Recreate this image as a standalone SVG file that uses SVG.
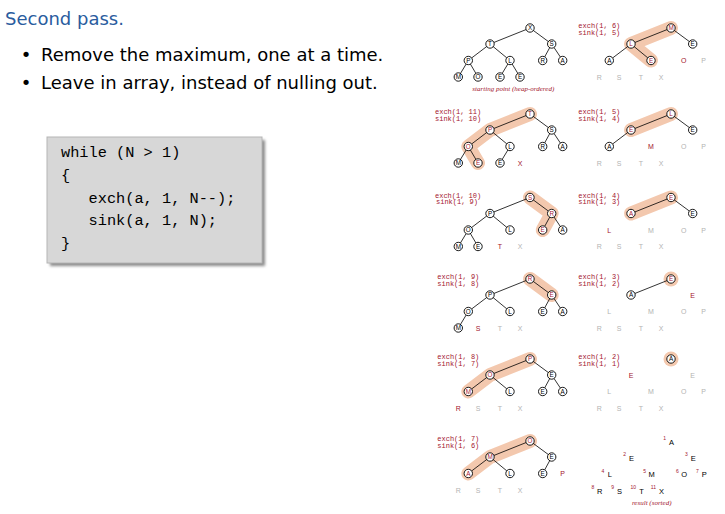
<svg xmlns="http://www.w3.org/2000/svg" width="725" height="514" viewBox="0 0 725 514">
  <style>
    .title { font-family: "DejaVu Sans", sans-serif; font-size: 18px; fill: #2a5c9e; }
    .body { font-family: "DejaVu Sans", sans-serif; font-size: 18px; fill: #000; }
    .code { font-family: "Liberation Mono", monospace; font-size: 15.3px; fill: #000; white-space: pre; }
    .hl { fill: none; stroke: #f3c8ae; stroke-width: 14; stroke-linecap: round; stroke-linejoin: round; }
    .halo { fill: #f3c8ae; }
    .edge { fill: none; stroke: #000; stroke-width: 0.8; }
    .nd circle { fill: #fff; stroke: #000; stroke-width: 0.9; }
    .nd text { font-family: "Liberation Sans", sans-serif; font-size: 6.3px; text-anchor: middle; fill: #000; }
    .nd.r text { fill: #a3152e; }
    .lo { font-family: "Liberation Sans", sans-serif; font-size: 7px; text-anchor: middle; fill: #b3b3b3; }
    .lo.r { fill: #a3152e; }
    .lo.k { fill: #000; font-size: 7.5px; }
    .sup { font-family: "Liberation Sans", sans-serif; font-size: 5px; text-anchor: end; fill: #a3152e; }
    .op { font-family: "Liberation Mono", monospace; font-size: 7px; fill: #a3152e; white-space: pre; }
    .cap { font-family: "Liberation Serif", serif; font-style: italic; font-size: 7px; text-anchor: middle; fill: #a3152e; }
  </style>
  <defs>
    <filter id="soft" x="-10%" y="-10%" width="120%" height="120%">
      <feGaussianBlur stdDeviation="1.5"/>
    </filter>
  </defs>

  <rect width="725" height="514" fill="#fff"/>

  <!-- heading and bullets -->
  <text class="title" x="5" y="24.5">Second pass.</text>
  <text class="body" x="26" y="61" text-anchor="middle">•</text>
  <text class="body" x="41" y="61">Remove the maximum, one at a time.</text>
  <text class="body" x="26" y="89" text-anchor="middle">•</text>
  <text class="body" x="41" y="89">Leave in array, instead of nulling out.</text>

  <!-- code box -->
  <g id="code-box">
    <rect x="50" y="140" width="215" height="126" fill="#8a8a8a" filter="url(#soft)"/>
    <rect x="47" y="137" width="215" height="126" fill="#d7d7d7" stroke="#b5b5b5" stroke-width="1"/>
    <text class="code" x="61" y="157">while (N &gt; 1)</text>
    <text class="code" x="61" y="180">{</text>
    <text class="code" x="61" y="203">   exch(a, 1, N--);</text>
    <text class="code" x="61" y="225">   sink(a, 1, N);</text>
    <text class="code" x="61" y="248">}</text>
  </g>

  <!-- panel: starting heap -->
  <g id="panel-start" transform="translate(530,28)">
    <g id="start-links">
      <path class="edge" d="M0,0L-40,16 M0,0L21.7,16 M-40,16L-61.7,32.5 M-40,16L-20,32.5 M21.7,16L12.7,32.5 M21.7,16L32.7,32.5 M-61.7,32.5L-71.7,49 M-61.7,32.5L-52,49 M-20,32.5L-30,49 M-20,32.5L-10,49"/>
    </g>
    <g id="start-n1" class="nd" transform="translate(0,0)"><circle r="4.2"/><text y="2.25">X</text></g>
    <g id="start-n2" class="nd" transform="translate(-40,16)"><circle r="4.2"/><text y="2.25">T</text></g>
    <g id="start-n3" class="nd" transform="translate(21.7,16)"><circle r="4.2"/><text y="2.25">S</text></g>
    <g id="start-n4" class="nd" transform="translate(-61.7,32.5)"><circle r="4.2"/><text y="2.25">P</text></g>
    <g id="start-n5" class="nd" transform="translate(-20,32.5)"><circle r="4.2"/><text y="2.25">L</text></g>
    <g id="start-n6" class="nd" transform="translate(12.7,32.5)"><circle r="4.2"/><text y="2.25">R</text></g>
    <g id="start-n7" class="nd" transform="translate(32.7,32.5)"><circle r="4.2"/><text y="2.25">A</text></g>
    <g id="start-n8" class="nd" transform="translate(-71.7,49)"><circle r="4.2"/><text y="2.25">M</text></g>
    <g id="start-n9" class="nd" transform="translate(-52,49)"><circle r="4.2"/><text y="2.25">O</text></g>
    <g id="start-n10" class="nd" transform="translate(-30,49)"><circle r="4.2"/><text y="2.25">E</text></g>
    <g id="start-n11" class="nd" transform="translate(-10,49)"><circle r="4.2"/><text y="2.25">E</text></g>
    <text class="cap" x="-16.7" y="63">starting point (heap-ordered)</text>
  </g>

  <!-- panel: exch(1, 11) -->
  <g id="panel-11" transform="translate(530,114)">
    <text class="op" x="-95" y="0">exch(1, 11)</text>
    <text class="op" x="-95" y="6.9">sink(1, 10)</text>
    <path class="hl" d="M0,0L-40,16L-61.7,32.5L-52,49"/>
    <g id="p11-links">
      <path class="edge" d="M0,0L-40,16 M0,0L21.7,16 M-40,16L-61.7,32.5 M-40,16L-20,32.5 M21.7,16L12.7,32.5 M21.7,16L32.7,32.5 M-61.7,32.5L-71.7,49 M-61.7,32.5L-52,49 M-20,32.5L-30,49"/>
    </g>
    <g id="p11-n1" class="nd r" transform="translate(0,0)"><circle r="4.2"/><text y="2.25">T</text></g>
    <g id="p11-n2" class="nd r" transform="translate(-40,16)"><circle r="4.2"/><text y="2.25">P</text></g>
    <g id="p11-n3" class="nd" transform="translate(21.7,16)"><circle r="4.2"/><text y="2.25">S</text></g>
    <g id="p11-n4" class="nd r" transform="translate(-61.7,32.5)"><circle r="4.2"/><text y="2.25">O</text></g>
    <g id="p11-n5" class="nd" transform="translate(-20,32.5)"><circle r="4.2"/><text y="2.25">L</text></g>
    <g id="p11-n6" class="nd" transform="translate(12.7,32.5)"><circle r="4.2"/><text y="2.25">R</text></g>
    <g id="p11-n7" class="nd" transform="translate(32.7,32.5)"><circle r="4.2"/><text y="2.25">A</text></g>
    <g id="p11-n8" class="nd" transform="translate(-71.7,49)"><circle r="4.2"/><text y="2.25">M</text></g>
    <g id="p11-n9" class="nd r" transform="translate(-52,49)"><circle r="4.2"/><text y="2.25">E</text></g>
    <g id="p11-n10" class="nd" transform="translate(-30,49)"><circle r="4.2"/><text y="2.25">E</text></g>
    <text class="lo r" x="-10" y="51.5">X</text>
  </g>

  <!-- panel: exch(1, 10) -->
  <g id="panel-10" transform="translate(530,197.5)">
    <text class="op" x="-95" y="0">exch(1, 10)</text>
    <text class="op" x="-94" y="6.9">sink(1, 9)</text>
    <path class="hl" d="M0,0L21.7,16L12.7,32.5"/>
    <g id="p10-links">
      <path class="edge" d="M0,0L-40,16 M0,0L21.7,16 M-40,16L-61.7,32.5 M-40,16L-20,32.5 M21.7,16L12.7,32.5 M21.7,16L32.7,32.5 M-61.7,32.5L-71.7,49 M-61.7,32.5L-52,49"/>
    </g>
    <g id="p10-n1" class="nd r" transform="translate(0,0)"><circle r="4.2"/><text y="2.25">S</text></g>
    <g id="p10-n2" class="nd" transform="translate(-40,16)"><circle r="4.2"/><text y="2.25">P</text></g>
    <g id="p10-n3" class="nd r" transform="translate(21.7,16)"><circle r="4.2"/><text y="2.25">R</text></g>
    <g id="p10-n4" class="nd" transform="translate(-61.7,32.5)"><circle r="4.2"/><text y="2.25">O</text></g>
    <g id="p10-n5" class="nd" transform="translate(-20,32.5)"><circle r="4.2"/><text y="2.25">L</text></g>
    <g id="p10-n6" class="nd r" transform="translate(12.7,32.5)"><circle r="4.2"/><text y="2.25">E</text></g>
    <g id="p10-n7" class="nd" transform="translate(32.7,32.5)"><circle r="4.2"/><text y="2.25">A</text></g>
    <g id="p10-n8" class="nd" transform="translate(-71.7,49)"><circle r="4.2"/><text y="2.25">M</text></g>
    <g id="p10-n9" class="nd" transform="translate(-52,49)"><circle r="4.2"/><text y="2.25">E</text></g>
    <text class="lo r" x="-30" y="51.5">T</text>
    <text class="lo" x="-10" y="51.5">X</text>
  </g>

  <!-- panel: exch(1, 9) -->
  <g id="panel-9" transform="translate(530,279)">
    <text class="op" x="-92.7" y="0">exch(1, 9)</text>
    <text class="op" x="-92.7" y="6.9">sink(1, 8)</text>
    <path class="hl" d="M0,0L21.7,16"/>
    <g id="p9-links">
      <path class="edge" d="M0,0L-40,16 M0,0L21.7,16 M-40,16L-61.7,32.5 M-40,16L-20,32.5 M21.7,16L12.7,32.5 M21.7,16L32.7,32.5 M-61.7,32.5L-71.7,49"/>
    </g>
    <g id="p9-n1" class="nd r" transform="translate(0,0)"><circle r="4.2"/><text y="2.25">R</text></g>
    <g id="p9-n2" class="nd" transform="translate(-40,16)"><circle r="4.2"/><text y="2.25">P</text></g>
    <g id="p9-n3" class="nd r" transform="translate(21.7,16)"><circle r="4.2"/><text y="2.25">E</text></g>
    <g id="p9-n4" class="nd" transform="translate(-61.7,32.5)"><circle r="4.2"/><text y="2.25">O</text></g>
    <g id="p9-n5" class="nd" transform="translate(-20,32.5)"><circle r="4.2"/><text y="2.25">L</text></g>
    <g id="p9-n6" class="nd" transform="translate(12.7,32.5)"><circle r="4.2"/><text y="2.25">E</text></g>
    <g id="p9-n7" class="nd" transform="translate(32.7,32.5)"><circle r="4.2"/><text y="2.25">A</text></g>
    <g id="p9-n8" class="nd" transform="translate(-71.7,49)"><circle r="4.2"/><text y="2.25">M</text></g>
    <text class="lo r" x="-52" y="51.5">S</text>
    <text class="lo" x="-30" y="51.5">T</text>
    <text class="lo" x="-10" y="51.5">X</text>
  </g>

  <!-- panel: exch(1, 8) -->
  <g id="panel-8" transform="translate(530,359)">
    <text class="op" x="-92.7" y="0">exch(1, 8)</text>
    <text class="op" x="-92.7" y="6.9">sink(1, 7)</text>
    <path class="hl" d="M0,0L-40,16L-61.7,32.5"/>
    <g id="p8-links">
      <path class="edge" d="M0,0L-40,16 M0,0L21.7,16 M-40,16L-61.7,32.5 M-40,16L-20,32.5 M21.7,16L12.7,32.5 M21.7,16L32.7,32.5"/>
    </g>
    <g id="p8-n1" class="nd r" transform="translate(0,0)"><circle r="4.2"/><text y="2.25">P</text></g>
    <g id="p8-n2" class="nd r" transform="translate(-40,16)"><circle r="4.2"/><text y="2.25">O</text></g>
    <g id="p8-n3" class="nd" transform="translate(21.7,16)"><circle r="4.2"/><text y="2.25">E</text></g>
    <g id="p8-n4" class="nd r" transform="translate(-61.7,32.5)"><circle r="4.2"/><text y="2.25">M</text></g>
    <g id="p8-n5" class="nd" transform="translate(-20,32.5)"><circle r="4.2"/><text y="2.25">L</text></g>
    <g id="p8-n6" class="nd" transform="translate(12.7,32.5)"><circle r="4.2"/><text y="2.25">E</text></g>
    <g id="p8-n7" class="nd" transform="translate(32.7,32.5)"><circle r="4.2"/><text y="2.25">A</text></g>
    <text class="lo r" x="-71.7" y="51.5">R</text>
    <text class="lo" x="-52" y="51.5">S</text>
    <text class="lo" x="-30" y="51.5">T</text>
    <text class="lo" x="-10" y="51.5">X</text>
  </g>

  <!-- panel: exch(1, 7) -->
  <g id="panel-7" transform="translate(530,441)">
    <text class="op" x="-92.7" y="0">exch(1, 7)</text>
    <text class="op" x="-92.7" y="6.9">sink(1, 6)</text>
    <path class="hl" d="M0,0L-40,16L-61.7,32.5"/>
    <g id="p7-links">
      <path class="edge" d="M0,0L-40,16 M0,0L21.7,16 M-40,16L-61.7,32.5 M-40,16L-20,32.5 M21.7,16L12.7,32.5"/>
    </g>
    <g id="p7-n1" class="nd r" transform="translate(0,0)"><circle r="4.2"/><text y="2.25">O</text></g>
    <g id="p7-n2" class="nd r" transform="translate(-40,16)"><circle r="4.2"/><text y="2.25">M</text></g>
    <g id="p7-n3" class="nd" transform="translate(21.7,16)"><circle r="4.2"/><text y="2.25">E</text></g>
    <g id="p7-n4" class="nd r" transform="translate(-61.7,32.5)"><circle r="4.2"/><text y="2.25">A</text></g>
    <g id="p7-n5" class="nd" transform="translate(-20,32.5)"><circle r="4.2"/><text y="2.25">L</text></g>
    <g id="p7-n6" class="nd" transform="translate(12.7,32.5)"><circle r="4.2"/><text y="2.25">E</text></g>
    <text class="lo r" x="32.7" y="35">P</text>
    <text class="lo" x="-71.7" y="51.5">R</text>
    <text class="lo" x="-52" y="51.5">S</text>
    <text class="lo" x="-30" y="51.5">T</text>
    <text class="lo" x="-10" y="51.5">X</text>
  </g>

  <!-- panel: exch(1, 6) -->
  <g id="panel-6" transform="translate(671,28)">
    <text class="op" x="-92.7" y="0">exch(1, 6)</text>
    <text class="op" x="-92.7" y="6.9">sink(1, 5)</text>
    <path class="hl" d="M0,0L-40,16L-20,32.5"/>
    <g id="p6-links">
      <path class="edge" d="M0,0L-40,16 M0,0L21.7,16 M-40,16L-61.7,32.5 M-40,16L-20,32.5"/>
    </g>
    <g id="p6-n1" class="nd r" transform="translate(0,0)"><circle r="4.2"/><text y="2.25">M</text></g>
    <g id="p6-n2" class="nd r" transform="translate(-40,16)"><circle r="4.2"/><text y="2.25">L</text></g>
    <g id="p6-n3" class="nd" transform="translate(21.7,16)"><circle r="4.2"/><text y="2.25">E</text></g>
    <g id="p6-n4" class="nd" transform="translate(-61.7,32.5)"><circle r="4.2"/><text y="2.25">A</text></g>
    <g id="p6-n5" class="nd r" transform="translate(-20,32.5)"><circle r="4.2"/><text y="2.25">E</text></g>
    <text class="lo r" x="12.7" y="35">O</text>
    <text class="lo" x="32.7" y="35">P</text>
    <text class="lo" x="-71.7" y="51.5">R</text>
    <text class="lo" x="-52" y="51.5">S</text>
    <text class="lo" x="-30" y="51.5">T</text>
    <text class="lo" x="-10" y="51.5">X</text>
  </g>

  <!-- panel: exch(1, 5) -->
  <g id="panel-5" transform="translate(671,114)">
    <text class="op" x="-92.7" y="0">exch(1, 5)</text>
    <text class="op" x="-92.7" y="6.9">sink(1, 4)</text>
    <path class="hl" d="M0,0L-40,16"/>
    <g id="p5-links">
      <path class="edge" d="M0,0L-40,16 M0,0L21.7,16 M-40,16L-61.7,32.5"/>
    </g>
    <g id="p5-n1" class="nd r" transform="translate(0,0)"><circle r="4.2"/><text y="2.25">L</text></g>
    <g id="p5-n2" class="nd r" transform="translate(-40,16)"><circle r="4.2"/><text y="2.25">E</text></g>
    <g id="p5-n3" class="nd" transform="translate(21.7,16)"><circle r="4.2"/><text y="2.25">E</text></g>
    <g id="p5-n4" class="nd" transform="translate(-61.7,32.5)"><circle r="4.2"/><text y="2.25">A</text></g>
    <text class="lo r" x="-20" y="35">M</text>
    <text class="lo" x="12.7" y="35">O</text>
    <text class="lo" x="32.7" y="35">P</text>
    <text class="lo" x="-71.7" y="51.5">R</text>
    <text class="lo" x="-52" y="51.5">S</text>
    <text class="lo" x="-30" y="51.5">T</text>
    <text class="lo" x="-10" y="51.5">X</text>
  </g>

  <!-- panel: exch(1, 4) -->
  <g id="panel-4" transform="translate(671,197.5)">
    <text class="op" x="-92.7" y="0">exch(1, 4)</text>
    <text class="op" x="-92.7" y="6.9">sink(1, 3)</text>
    <path class="hl" d="M0,0L-40,16"/>
    <g id="p4-links">
      <path class="edge" d="M0,0L-40,16 M0,0L21.7,16"/>
    </g>
    <g id="p4-n1" class="nd r" transform="translate(0,0)"><circle r="4.2"/><text y="2.25">E</text></g>
    <g id="p4-n2" class="nd r" transform="translate(-40,16)"><circle r="4.2"/><text y="2.25">A</text></g>
    <g id="p4-n3" class="nd" transform="translate(21.7,16)"><circle r="4.2"/><text y="2.25">E</text></g>
    <text class="lo r" x="-61.7" y="35">L</text>
    <text class="lo" x="-20" y="35">M</text>
    <text class="lo" x="12.7" y="35">O</text>
    <text class="lo" x="32.7" y="35">P</text>
    <text class="lo" x="-71.7" y="51.5">R</text>
    <text class="lo" x="-52" y="51.5">S</text>
    <text class="lo" x="-30" y="51.5">T</text>
    <text class="lo" x="-10" y="51.5">X</text>
  </g>

  <!-- panel: exch(1, 3) -->
  <g id="panel-3" transform="translate(671,279)">
    <text class="op" x="-92.7" y="0">exch(1, 3)</text>
    <text class="op" x="-92.7" y="6.9">sink(1, 2)</text>
    <circle class="halo" r="7.5"/>
    <g id="p3-links">
      <path class="edge" d="M0,0L-40,16"/>
    </g>
    <g id="p3-n1" class="nd r" transform="translate(0,0)"><circle r="4.2"/><text y="2.25">E</text></g>
    <g id="p3-n2" class="nd" transform="translate(-40,16)"><circle r="4.2"/><text y="2.25">A</text></g>
    <text class="lo r" x="21.7" y="18.5">E</text>
    <text class="lo" x="-61.7" y="35">L</text>
    <text class="lo" x="-20" y="35">M</text>
    <text class="lo" x="12.7" y="35">O</text>
    <text class="lo" x="32.7" y="35">P</text>
    <text class="lo" x="-71.7" y="51.5">R</text>
    <text class="lo" x="-52" y="51.5">S</text>
    <text class="lo" x="-30" y="51.5">T</text>
    <text class="lo" x="-10" y="51.5">X</text>
  </g>

  <!-- panel: exch(1, 2) -->
  <g id="panel-2" transform="translate(671,359)">
    <text class="op" x="-92.7" y="0">exch(1, 2)</text>
    <text class="op" x="-92.7" y="6.9">sink(1, 1)</text>
    <circle class="halo" r="7.5"/>
    <g id="p2-n1" class="nd" transform="translate(0,0)"><circle r="4.2"/><text y="2.25">A</text></g>
    <text class="lo r" x="-40" y="18.5">E</text>
    <text class="lo" x="21.7" y="18.5">E</text>
    <text class="lo" x="-61.7" y="35">L</text>
    <text class="lo" x="-20" y="35">M</text>
    <text class="lo" x="12.7" y="35">O</text>
    <text class="lo" x="32.7" y="35">P</text>
    <text class="lo" x="-71.7" y="51.5">R</text>
    <text class="lo" x="-52" y="51.5">S</text>
    <text class="lo" x="-30" y="51.5">T</text>
    <text class="lo" x="-10" y="51.5">X</text>
  </g>

  <!-- panel: sorted result with array indices -->
  <g id="panel-result" transform="translate(671,441)">
    <text class="lo k" x="0.5" y="3.7">A</text><text class="sup" x="-5" y="-1">1</text>
    <text class="lo k" x="-39.5" y="19.7">E</text><text class="sup" x="-45" y="15">2</text>
    <text class="lo k" x="22.2" y="19.7">E</text><text class="sup" x="16.7" y="15">3</text>
    <text class="lo k" x="-61.2" y="36.2">L</text><text class="sup" x="-66.7" y="31.5">4</text>
    <text class="lo k" x="-19.5" y="36.2">M</text><text class="sup" x="-25" y="31.5">5</text>
    <text class="lo k" x="13.2" y="36.2">O</text><text class="sup" x="7.7" y="31.5">6</text>
    <text class="lo k" x="33.2" y="36.2">P</text><text class="sup" x="27.7" y="31.5">7</text>
    <text class="lo k" x="-71.2" y="52.7">R</text><text class="sup" x="-76.7" y="48">8</text>
    <text class="lo k" x="-51.5" y="52.7">S</text><text class="sup" x="-57" y="48">9</text>
    <text class="lo k" x="-29.5" y="52.7">T</text><text class="sup" x="-35" y="48">10</text>
    <text class="lo k" x="-9.5" y="52.7">X</text><text class="sup" x="-15" y="48">11</text>
    <text class="cap" x="-19.3" y="64">result (sorted)</text>
  </g>
</svg>
